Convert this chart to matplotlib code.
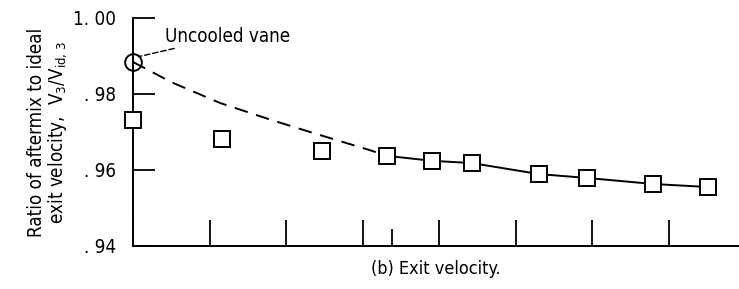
"""
Ratio of aftermix to ideal exit velocity, recreated from a scanned report figure.
"""
import matplotlib
matplotlib.use("Agg")
import matplotlib.pyplot as plt
from matplotlib.ticker import FixedLocator, NullFormatter

plt.rcParams["font.family"] = ["DejaVu Sans"]
plt.rcParams["font.stretch"] = "condensed"
plt.rcParams["mathtext.fontset"] = "custom"
plt.rcParams["mathtext.rm"] = "DejaVu Sans:stretch=condensed"
plt.rcParams["mathtext.it"] = "DejaVu Sans:stretch=condensed"

# data (x in major-tick units, unlabeled axis)
square_x = [0.0, 1.16, 2.47, 3.32, 3.91, 4.43, 5.31, 5.93, 6.80, 7.52]
square_y = [0.9732, 0.9682, 0.9650, 0.9637, 0.9624, 0.9618, 0.9589, 0.9579, 0.9563, 0.9555]
solid_x = [3.32, 3.91, 4.43, 5.31, 5.93, 6.80, 7.52]
solid_y = [0.9637, 0.9624, 0.9618, 0.9589, 0.9579, 0.9563, 0.9555]
dashed_x = [0.0, 0.5, 1.14, 1.8, 2.44, 3.08, 3.32]
dashed_y = [0.9884, 0.9831, 0.9776, 0.9732, 0.9692, 0.9653, 0.9637]
uncooled_x = [0.0]
uncooled_y = [0.9884]
x_major = [0, 1, 2, 3, 4, 5, 6, 7]
x_minor = [3.39]
y_ticks = [0.94, 0.96, 0.98, 1.00]
y_labels = [". 94", ". 96", ". 98", "1. 00"]

fig = plt.figure(figsize=(7.39, 2.89), dpi=100)
ax = fig.add_axes([0.18, 0.149, 0.82, 0.789])

ax.plot(dashed_x, dashed_y, color="black", lw=1.4, linestyle=(0, (7, 4.5)))
ax.plot(solid_x, solid_y, color="black", lw=1.4)
ax.plot(square_x, square_y, linestyle="none", marker="s", ms=11.5, mfc="white",
        mec="black", mew=1.4, clip_on=False, zorder=3)
ax.plot(uncooled_x, uncooled_y, linestyle="none", marker="o", ms=12, mfc="none",
        mec="black", mew=1.4, clip_on=False, zorder=3)

ax.annotate("Uncooled vane", xy=(0.07, 0.9898), xytext=(0.42, 0.9952),
            fontsize=13.5, va="center", ha="left",
            arrowprops=dict(arrowstyle="-", color="black", lw=1.0,
                            linestyle=(0, (4, 2)), shrinkA=0, shrinkB=0))

ax.set_xlim(0, 7.92)
ax.set_ylim(0.94, 1.00)
for side in ("top", "right"):
    ax.spines[side].set_visible(False)
for side in ("left", "bottom"):
    ax.spines[side].set_linewidth(1.4)

ax.xaxis.set_major_locator(FixedLocator(x_major))
ax.xaxis.set_minor_locator(FixedLocator(x_minor))
ax.xaxis.set_major_formatter(NullFormatter())
ax.tick_params(axis="x", which="major", direction="in", length=19, width=1.3)
ax.tick_params(axis="x", which="minor", direction="in", length=12, width=1.3)

ax.set_yticks(y_ticks)
ax.set_yticklabels(y_labels)
ax.tick_params(axis="y", direction="in", length=16, width=1.3, labelsize=13.5, pad=12)

ax.set_ylabel("Ratio of aftermix to ideal\nexit velocity,  V$_3$/V$_{\\mathrm{id},\\,3}$",
              fontsize=13.5, labelpad=3, linespacing=1.0)
fig.text(0.59, 0.07, "(b) Exit velocity.", fontsize=13, ha="center", va="center")

fig.savefig("out.png", dpi=100)
